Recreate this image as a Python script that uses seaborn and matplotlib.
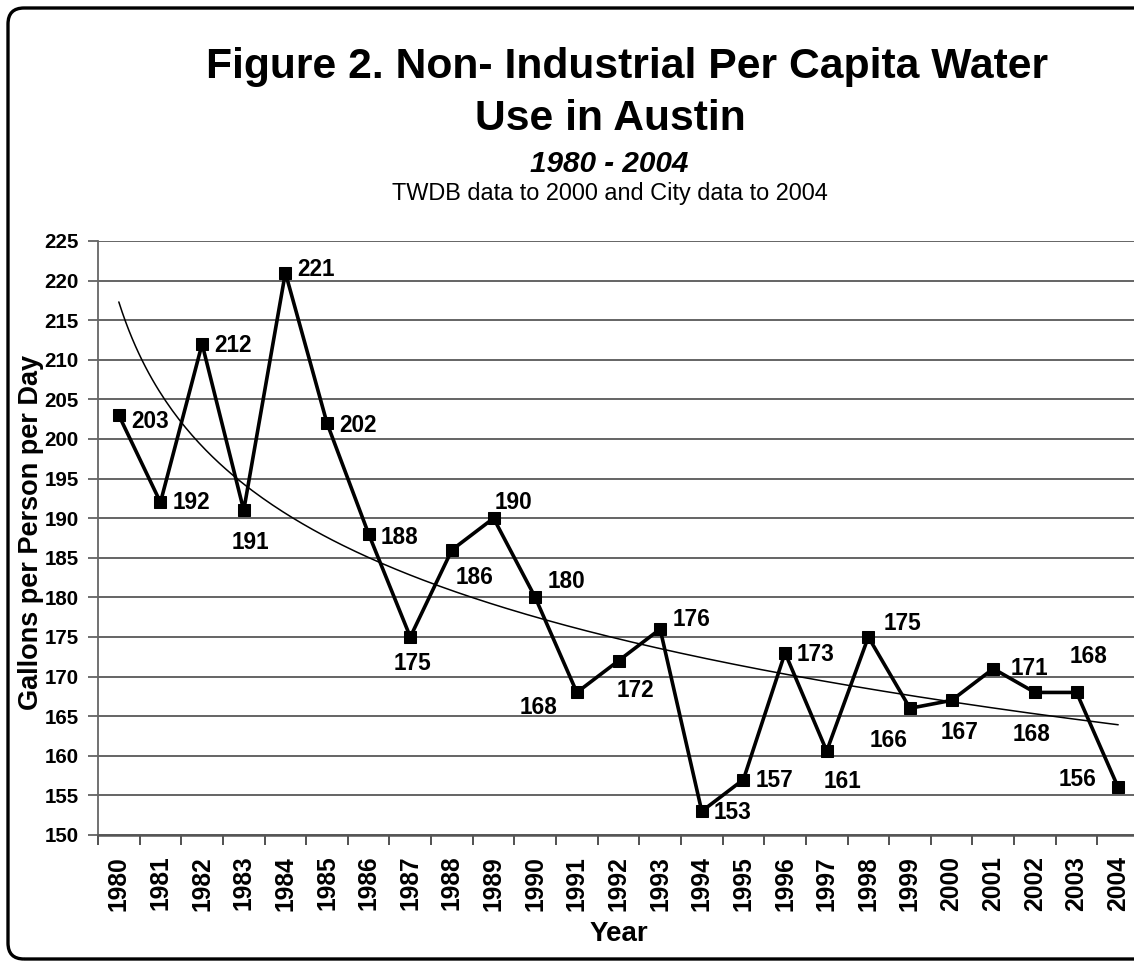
import numpy as np
import pandas as pd
import matplotlib
matplotlib.use("Agg")
import matplotlib.pyplot as plt
from matplotlib.patches import FancyBboxPatch
from matplotlib.transforms import IdentityTransform
import seaborn as sns

# ---- data ----
years = [str(y) for y in range(1980, 2005)]
gallons = [203, 192, 212, 191, 221, 202, 188, 175, 186, 190, 180, 168, 172, 176,
           153, 157, 173, 160.6, 175, 166, 167, 171, 168, 168, 156]
y_ticks = list(range(150, 226, 5))

subtitle_text = "1980 - 2004"
note_text = "TWDB data to 2000 and City data to 2004"
x_label = "Year"
y_label = "Gallons per Person per Day"

# label offsets (pixels) relative to each marker: (dx, dy) with dy positive = down
label_offsets = [(31, 6), (31, 0), (31, 2), (7, 32), (31, -3), (31, 2), (31, 3),
                 (2, 27), (23, 28), (20, -16), (31, -16), (-38, 15), (17, 30),
                 (31, -10), (31, 1), (31, 1), (31, 2), (16, 30), (34, -14),
                 (-21, 32), (8, 32), (36, 0), (-3, 42), (12, -36), (-41, -8)]

# ---- styling ----
sns.set_theme(style="white")
plt.rcParams["font.family"] = ["Liberation Sans", "DejaVu Sans"]
plt.rcParams["font.weight"] = "bold"

W, H, DPI = 1134, 966, 100
fig = plt.figure(figsize=(W / DPI, H / DPI), dpi=DPI)
fig.patch.set_facecolor("white")

# rounded chart border (display pixels), right side runs off the canvas
border = FancyBboxPatch((8, 7), 1300, 951, boxstyle="round,pad=0,rounding_size=16",
                        transform=IdentityTransform(), facecolor="none",
                        edgecolor="black", linewidth=2.4, zorder=0)
fig.patches.append(border)

left, right, top, bottom = 98, 1139, 241, 835
ax = fig.add_axes([left / W, 1 - bottom / H, (right - left) / W, (bottom - top) / H])
ax.set_facecolor("white")

df = pd.DataFrame({"idx": np.arange(len(years)), "year": years, "gallons": gallons})

# logarithmic trendline
xk = np.arange(1, len(years) + 1)
slope, intercept = np.polyfit(np.log(xk), df["gallons"].values, 1)
trend = pd.DataFrame({"idx": np.linspace(0, len(years) - 1, 300)})
trend["fit"] = slope * np.log(trend["idx"] + 1) + intercept
sns.lineplot(data=trend, x="idx", y="fit", ax=ax, color="black", linewidth=1.1,
             zorder=3)

sns.lineplot(data=df, x="idx", y="gallons", ax=ax, color="black", linewidth=2.6,
             marker="s", markersize=8.5, markeredgecolor="black",
             markerfacecolor="black", zorder=4)

for i, v in enumerate(gallons):
    dx, dy = label_offsets[i]
    ax.annotate(f"{v:.0f}", (i, v), xytext=(dx, -dy), textcoords="offset pixels",
                ha="center", va="center", fontsize=16.3, fontweight="bold",
                color="black", zorder=5)

ax.set_xlim(-0.5, len(years) - 0.5)
ax.set_ylim(150, 225)
ax.set_yticks(y_ticks)
ax.set_yticklabels([str(t) for t in y_ticks])
ax.set_xticks(range(len(years)))
ax.set_xticklabels(years, rotation=90)
ax.set_xticks(np.arange(-0.5, len(years), 1.0), minor=True)

ax.tick_params(axis="x", which="major", length=0, pad=15, labelsize=17.7,
               labelcolor="black")
ax.tick_params(axis="x", which="minor", length=7, width=1.2, color="#333333",
               direction="out", bottom=True)
ax.tick_params(axis="y", which="major", length=7, width=1.2, color="#555555",
               direction="out", left=True, pad=7, labelsize=14.8, labelcolor="black")
for lab in ax.get_xticklabels() + ax.get_yticklabels():
    lab.set_fontweight("bold")

ax.grid(axis="y", color="#3a3a3a", linewidth=1.1)
ax.grid(axis="x", visible=False)
ax.set_axisbelow(True)

for s in ["top", "right"]:
    ax.spines[s].set_visible(False)
ax.spines["left"].set_color("#666666")
ax.spines["left"].set_linewidth(1.3)
ax.spines["bottom"].set_color("#555555")
ax.spines["bottom"].set_linewidth(1.8)

ax.set_xlabel(x_label, fontsize=20, fontweight="bold", color="black")
ax.set_ylabel(y_label, fontsize=19.5, fontweight="bold", color="black")
ax.xaxis.set_label_coords(0.5, -(934 - bottom) / (bottom - top))
ax.yaxis.set_label_coords(-(left - 31) / (right - left), (bottom - 532) / (bottom - top))
ax.xaxis.label.set_va("center")
ax.yaxis.label.set_va("center")

fig.text(627 / W, 1 - 78 / H, "Figure 2. Non- Industrial Per Capita Water",
         ha="center", va="baseline", fontsize=30.7, fontweight="bold", color="black")
fig.text(610 / W, 1 - 130 / H, "Use in Austin", ha="center", va="baseline",
         fontsize=30.7, fontweight="bold", color="black")
fig.text(609 / W, 1 - 172 / H, subtitle_text, ha="center", va="baseline",
         fontsize=21.4, fontweight="bold", style="italic", color="black")
fig.text(610 / W, 1 - 200 / H, note_text, ha="center", va="baseline", fontsize=16.9,
         fontweight="normal", color="black")

fig.savefig("out.png", dpi=DPI)
